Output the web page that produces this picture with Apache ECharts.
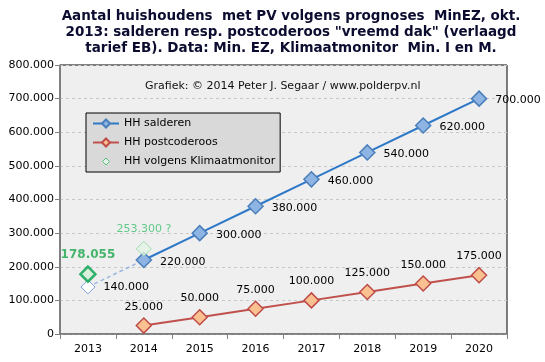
<!DOCTYPE html>
<html><head><meta charset="utf-8">
<script src="https://cdn.jsdelivr.net/npm/echarts@6/dist/echarts.min.js"></script>
<style>html,body{margin:0;padding:0;background:#fff}#c{width:545px;height:362px}</style>
</head><body><div id="c"></div>
<script>
const categories = ['2013','2014','2015','2016','2017','2018','2019','2020'];
const salderen = [null,220000,300000,380000,460000,540000,620000,700000];
const salderenStart = [140000,220000,null,null,null,null,null,null];
const postcoderoos = [null,25000,50000,75000,100000,125000,150000,175000];
const klimaatmonitor = [178055,253300,null,null,null,null,null,null];
const yTicks = {min:0,max:800000,interval:100000};
const titleText = 'Aantal huishoudens  met PV volgens prognoses  MinEZ, okt.\n2013: salderen resp. postcoderoos "vreemd dak" (verlaagd\ntarief EB). Data: Min. EZ, Klimaatmonitor  Min. I en M.';
const creditText = 'Grafiek: \u00a9 2014 Peter J. Segaar / www.polderpv.nl';

function fmt(v){ if(v===0) return '0'; return String(v).replace(/\B(?=(\d{3})+(?!\d))/g,'.'); }
const FONT='DejaVu Sans';
const chart = echarts.init(document.getElementById('c'));
chart.setOption({
  animation:false,
  textStyle:{fontFamily:FONT},
  title:[{text:titleText,left:286,textAlign:'center',top:3,
    textStyle:{fontFamily:FONT,fontSize:13.5,fontWeight:'bold',color:'#0c0c30',lineHeight:16}},
    {text:creditText,left:140,top:76,textStyle:{fontFamily:FONT,fontSize:11,fontWeight:'normal',color:'#111'}}],
  grid:{left:60,right:38,top:65,bottom:28,show:true,backgroundColor:'#efefef',borderColor:'#000',borderWidth:1},
  legend:{orient:'vertical',left:86,top:113,backgroundColor:'#d9d9d9',borderColor:'#000',borderWidth:1,
    padding:[5,5,5,6],itemGap:8,itemWidth:26,itemHeight:10,
    textStyle:{fontFamily:FONT,fontSize:11,color:'#000'},
    data:['HH salderen','HH postcoderoos',
      {name:'HH volgens Klimaatmonitor',icon:'path://M0,0M26,10M13,1.5L16.5,5L13,8.5L9.5,5Z',
        itemStyle:{color:'#e6f5e8',borderColor:'#3cb46a',borderWidth:1}}]},
  xAxis:{type:'category',data:categories,boundaryGap:true,
    axisLine:{lineStyle:{color:'#808080',width:1.5}},
    axisTick:{show:true,length:5,lineStyle:{color:'#808080'}},
    axisLabel:{fontFamily:FONT,fontSize:11,color:'#000',margin:10}},
  yAxis:{type:'value',min:yTicks.min,max:yTicks.max,interval:yTicks.interval,
    axisLine:{show:true,lineStyle:{color:'#808080',width:1.5}},
    axisTick:{show:true,length:5,inside:false,lineStyle:{color:'#808080'}},
    splitLine:{lineStyle:{color:'#c8c8c8',type:[3,3]}},
    axisLabel:{fontFamily:FONT,fontSize:11,color:'#000',margin:6,formatter:fmt}},
  series:[
    {name:'HH salderen start',type:'line',data:salderenStart,symbol:'diamond',symbolSize:14,
      lineStyle:{color:'#9bb7df',width:1.5,type:[4,3]},
      itemStyle:{color:'#fff',borderColor:'#7f9fd6',borderWidth:1},
      label:{show:true,position:'right',distance:8,fontFamily:FONT,fontSize:11,color:'#000',
        formatter:p=>p.dataIndex===0?fmt(p.value):''},
      z:2},
    {name:'HH salderen',type:'line',data:salderen,symbol:'diamond',symbolSize:15,
      lineStyle:{color:'#2e78c8',width:2},
      itemStyle:{color:'#8db4e2',borderColor:'#4a7ebb',borderWidth:1.5},
      label:{show:true,position:'right',distance:8,fontFamily:FONT,fontSize:11,color:'#000',offset:[0,2],formatter:p=>fmt(p.value)},
      z:3},
    {name:'HH postcoderoos',type:'line',data:postcoderoos,symbol:'diamond',symbolSize:15,
      lineStyle:{color:'#c0504d',width:2},
      itemStyle:{color:'#fac090',borderColor:'#be4b48',borderWidth:1.5},
      label:{show:true,position:'top',distance:5,fontFamily:FONT,fontSize:11,color:'#000',formatter:p=>fmt(p.value)},
      z:3},
    {name:'HH volgens Klimaatmonitor',type:'scatter',symbol:'diamond',symbolSize:15,
      itemStyle:{color:'#d8f0dc',borderColor:'#70c88a',borderWidth:1},
      data:[
        {value:[0,klimaatmonitor[0]],itemStyle:{color:'#d6efd8',borderColor:'#00a04a',borderWidth:2.5},
          label:{show:true,position:'top',distance:5,fontSize:12,fontWeight:'bold',color:'#1aa64a',formatter:p=>fmt(p.value[1])}},
        {value:[1,klimaatmonitor[1]],itemStyle:{color:'#e2f3e4',borderColor:'#8fd4a4',borderWidth:1},
          label:{show:true,position:'top',distance:6,fontSize:11,color:'#3cbf70',formatter:p=>fmt(p.value[1])+' ?'}}
      ],z:4}
  ]
});
</script></body></html>
